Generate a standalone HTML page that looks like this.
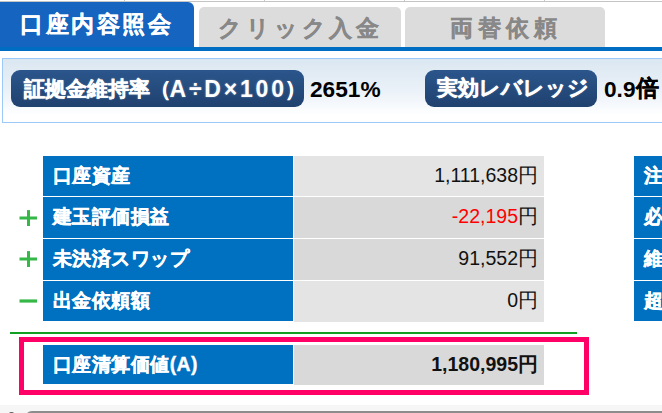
<!DOCTYPE html>
<html lang="ja">
<head>
<meta charset="utf-8">
<title>口座内容照会</title>
<style>
html,body{margin:0;padding:0;background:#fff;}
body{width:662px;height:413px;overflow:hidden;position:relative;font-family:"Liberation Sans",sans-serif;color:#000;}
.abs{position:absolute;}
.topline{left:0;top:1px;width:662px;height:1px;background:#c4c4c4;}
.vtick{top:0;width:1px;height:1px;background:#c8c8c8;}
.tab{position:absolute;box-sizing:border-box;text-align:center;font-weight:bold;font-size:22.5px;letter-spacing:1.33px;white-space:nowrap;}
.tab.on{letter-spacing:2.5px;left:-1px;top:2px;width:195px;-webkit-text-stroke:0.25px #fff;height:47px;background:#1565c0;color:#fff;border-radius:0 6px 0 0;line-height:46px;padding-left:0;}
.tab.off{letter-spacing:5.2px;top:7px;height:41px;background:#dcdcdc;color:#888;-webkit-text-stroke:0.3px #888;border-radius:5px 5px 0 0;line-height:43px;padding-left:0;}
.tabbar{left:0;top:47px;width:662px;height:4.4px;background:#006cc2;}
.info{left:2px;top:58px;width:700px;height:65px;box-sizing:border-box;border:1px solid #9dc9f8;background:linear-gradient(#dbe7f1 0%,#eaf1f8 50%,#ffffff 90%);}
.badge{position:absolute;top:70px;height:37px;box-sizing:border-box;border-radius:9px;background:linear-gradient(#2b568c,#1f416f);color:#fff;font-weight:bold;font-size:21.33px;line-height:37px;white-space:nowrap;text-shadow:0 0 2px rgba(255,255,255,.4);-webkit-text-stroke:0.3px #fff;}
.val{position:absolute;top:70px;height:37px;line-height:39px;font-weight:bold;font-size:22.67px;white-space:nowrap;}
.lab{position:absolute;left:43px;width:249.5px;height:40px;background:#0070c0;color:#fff;font-weight:bold;font-size:19.33px;letter-spacing:0.45px;line-height:39px;-webkit-text-stroke:0.4px #fff;padding-left:10px;box-sizing:border-box;white-space:nowrap;}
.num{position:absolute;left:294px;width:250px;height:40px;font-size:19.5px;line-height:39px;text-align:right;padding-right:6px;color:#111;box-sizing:border-box;white-space:nowrap;}
.g1{background:#e4e4e4;}
.g2{background:#d9d9d9;}
.red{color:#ff0000;}
.rlab{position:absolute;left:634px;width:40px;height:40px;background:#0070c0;color:#fff;font-weight:bold;font-size:19.33px;letter-spacing:0.45px;line-height:39px;-webkit-text-stroke:0.4px #fff;padding-left:10px;box-sizing:border-box;white-space:nowrap;overflow:hidden;}
</style>
</head>
<body>
<div class="abs topline"></div>
<div class="abs vtick" style="left:124px"></div>
<div class="abs vtick" style="left:264px"></div>
<div class="abs vtick" style="left:404px"></div>
<div class="abs vtick" style="left:544px"></div>

<div class="tab on">口座内容照会</div>
<div class="tab off" style="left:199.3px;width:201.7px;letter-spacing:3.8px;padding-left:1px;">クリック入金</div>
<div class="tab off" style="left:405px;width:200px;padding-left:2px;">両替依頼</div>
<div class="abs tabbar"></div>

<div class="abs info"></div>
<div class="badge" style="left:11px;width:293px;padding-left:13px;">証拠金維持率（<span style="font-size:23px;letter-spacing:2.8px;margin-left:-1.5px;margin-right:-2px;-webkit-text-stroke:0;position:relative;top:0.5px">A÷D×100</span>）</div>
<div class="val" style="left:310px;">2651%</div>
<div class="badge" style="left:425px;width:172px;padding-left:12px;">実効レバレッジ</div>
<div class="val" style="left:604px;">0.9<span style="position:relative;top:-1px;-webkit-text-stroke:0.3px #000;">倍</span></div>

<div class="lab" style="top:156px;height:39.7px;">口座資産</div>
<div class="num g1" style="top:156px;height:39.7px;">1,111,638円</div>

<div class="lab" style="top:197.1px;height:40.7px;">建玉評価損益</div>
<div class="num g2" style="top:197.1px;height:40.7px;"><span class="red">-22,195</span>円</div>

<div class="lab" style="top:239.1px;height:40.6px;">未決済スワップ</div>
<div class="num g2" style="top:239.1px;height:40.6px;">91,552円</div>

<div class="lab" style="top:281px;height:39.9px;">出金依頼額</div>
<div class="num g1" style="top:281px;height:40.7px;">0円</div>

<div class="abs" style="left:9.5px;top:332px;width:567px;height:2px;background:#12a022;"></div>

<div class="abs" style="left:19px;top:336.7px;width:570px;height:58px;box-sizing:border-box;border:5px solid #ff0066;"></div>
<div class="lab" style="top:344.8px;height:39.4px;">口座清算価値(A)</div>
<div class="num g2" style="top:344.8px;height:40.2px;font-weight:bold;">1,180,995円</div>


<svg class="abs" style="left:0;top:200px" width="42" height="110" viewBox="0 200 42 110">
<g fill="#36b848">
<rect x="19.5" y="216.5" width="17.5" height="3"/><rect x="27" y="210.1" width="3" height="15.9"/>
<rect x="19.5" y="257.5" width="17.5" height="3"/><rect x="27" y="251.1" width="3" height="15.9"/>
<rect x="19.5" y="299.4" width="17.5" height="3.2"/>
</g></svg>
<div class="rlab" style="top:156px;height:39.7px;">注文</div>
<div class="rlab" style="top:197.1px;height:40.7px;">必要</div>
<div class="rlab" style="top:239.1px;height:40.6px;">維持</div>
<div class="rlab" style="top:281px;height:39.9px;">超過</div>

<div class="abs" style="left:0;top:405px;width:662px;height:8px;background:#f6f6f6;"></div>
<div class="abs" style="left:24.5px;top:410.5px;width:700px;height:20px;background:#8c8c8c;border-radius:7px 0 0 0;"></div>
<div class="abs" style="left:8.5px;top:411.5px;width:5px;height:3px;background:#666;border-radius:2px 2px 0 0;"></div>
</body>
</html>
